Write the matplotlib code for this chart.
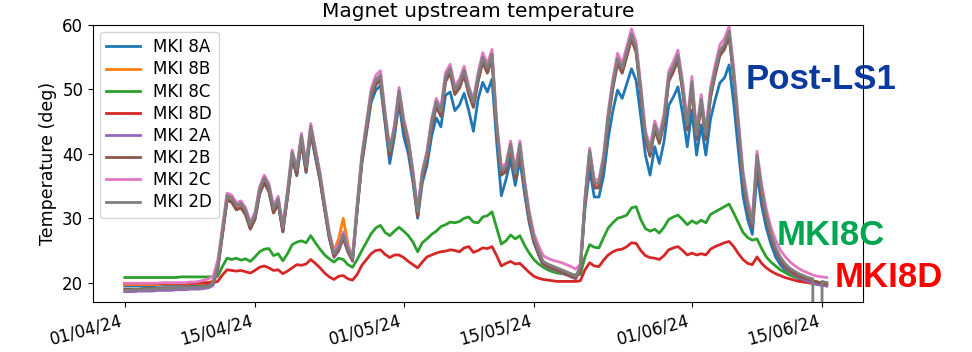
"""Magnet upstream temperature - MKI 8A..8D and 2A..2D, spring 2024."""
import matplotlib
matplotlib.use("Agg")
import matplotlib.pyplot as plt
import matplotlib.dates as mdates
import pandas as pd

# campioni ogni 12 ore a partire dal 01/04/24
t0 = "2024-04-01 00:00"

mki_8a = [
    19.5, 19.5, 19.5, 19.5, 19.5, 19.5, 19.5, 19.6, 19.6, 19.6,
    19.6, 19.6, 19.6, 19.7, 19.7, 19.7, 19.7, 19.7, 19.8, 20.0,
    22.4, 27.6, 32.8, 32.5, 31.4, 31.7, 30.6, 28.5, 30.0, 33.8,
    35.5, 34.2, 30.9, 32.3, 28.1, 33.3, 39.2, 36.6, 41.7, 37.1,
    43.1, 39.5, 35.9, 31.4, 27.1, 24.3, 25.2, 27.1, 25.0, 23.6,
    31.4, 38.5, 43.3, 48.0, 49.9, 50.6, 44.7, 38.5, 42.6, 47.9,
    42.7, 40.0, 35.5, 30.0, 35.5, 38.2, 42.7, 45.6, 44.2, 49.1,
    49.6, 46.7, 47.6, 49.4, 46.7, 43.5, 48.5, 51.1, 49.6, 51.6,
    41.8, 33.5, 36.0, 39.1, 35.1, 39.1, 33.8, 29.3, 26.2, 24.4,
    22.6, 22.2, 21.9, 21.7, 21.5, 21.3, 21.1, 20.9, 22.2, 31.5,
    37.6, 33.3, 33.3, 36.6, 42.4, 46.7, 49.9, 48.6, 50.9, 53.2,
    51.4, 45.8, 39.8, 36.7, 41.1, 38.5, 41.9, 47.5, 48.8, 50.4,
    46.2, 41.1, 46.8, 39.8, 44.5, 39.8, 45.4, 48.4, 51.0, 51.8,
    53.8, 47.8, 40.5, 33.5, 29.8, 27.5, 37.0, 32.0, 28.5, 26.0,
    24.0, 22.8, 22.0, 21.4, 21.0, 20.6, 20.3, 20.1, 19.9, 19.7,
    19.6, 19.5,
]
mki_8b = [
    19.7, 19.7, 19.7, 19.7, 19.7, 19.7, 19.7, 19.7, 19.8, 19.8,
    19.8, 19.8, 19.8, 19.8, 19.8, 19.9, 19.9, 19.9, 20.0, 20.3,
    22.6, 27.8, 33.2, 32.9, 31.7, 32.0, 30.9, 28.7, 30.2, 34.2,
    36.0, 34.7, 31.2, 32.7, 28.2, 33.7, 39.9, 37.2, 42.5, 37.7,
    44.0, 40.2, 36.4, 31.7, 27.3, 25.0, 26.8, 30.0, 26.0, 23.7,
    31.7, 39.2, 44.2, 49.2, 51.2, 51.9, 45.7, 40.2, 43.7, 49.5,
    44.7, 41.7, 36.7, 30.7, 36.7, 39.7, 44.7, 47.8, 46.3, 51.7,
    53.0, 49.7, 50.7, 52.7, 49.7, 47.7, 51.7, 54.7, 53.0, 55.2,
    44.2, 37.2, 37.7, 41.2, 36.7, 41.2, 35.2, 30.2, 26.8, 24.8,
    23.1, 22.7, 22.4, 22.1, 21.8, 21.5, 21.2, 20.8, 22.3, 32.7,
    40.2, 35.2, 35.2, 39.0, 45.7, 50.7, 54.5, 53.0, 55.6, 58.3,
    56.2, 49.7, 42.7, 40.1, 44.2, 42.1, 45.2, 51.7, 53.2, 55.0,
    50.2, 44.2, 50.9, 42.7, 48.2, 42.7, 49.2, 52.7, 55.7, 56.7,
    58.7, 52.2, 44.2, 36.2, 31.7, 28.9, 39.5, 34.2, 30.2, 27.3,
    25.2, 23.7, 22.7, 22.0, 21.5, 21.1, 20.8, 20.5, 20.3, 20.1,
    19.9, 19.8,
]
mki_8c = [
    20.8, 20.8, 20.8, 20.8, 20.8, 20.8, 20.8, 20.8, 20.8, 20.8,
    20.8, 20.8, 20.9, 20.9, 20.9, 20.9, 20.9, 20.9, 20.9, 20.9,
    21.0, 22.5, 23.8, 23.6, 23.8, 23.5, 23.7, 23.3, 24.0, 24.8,
    25.2, 25.3, 24.2, 24.5, 23.4, 24.5, 25.9, 26.3, 26.5, 26.2,
    27.3, 26.2, 25.2, 24.3, 23.7, 23.2, 23.8, 23.6, 22.8, 22.4,
    23.6, 25.0, 26.3, 27.6, 28.5, 28.9, 27.8, 27.3, 28.0, 28.6,
    28.0, 27.3, 26.3, 24.8, 26.2, 26.8, 27.5, 28.0, 28.7, 29.0,
    29.4, 29.3, 29.5, 30.0, 30.2, 29.4, 29.3, 30.2, 30.4, 31.0,
    28.5, 26.0, 26.5, 27.4, 26.8, 27.3, 25.8, 24.6, 23.6, 22.9,
    22.4, 22.0, 21.7, 21.5, 21.4, 21.3, 21.3, 21.2, 21.3, 24.0,
    25.9, 25.5, 25.4, 27.0, 28.5, 29.3, 30.0, 30.2, 30.5, 31.6,
    31.8, 29.8, 28.4, 28.0, 28.3, 27.7, 28.6, 29.8, 30.2, 30.5,
    29.8, 29.0, 29.6, 29.2, 29.7, 29.3, 30.6, 31.0, 31.4, 31.8,
    32.2, 30.8, 29.3, 27.8, 27.0, 26.6, 26.8, 25.3, 24.0, 23.2,
    22.6, 22.0, 21.6, 21.2, 20.9, 20.7, 20.5, 20.3, 20.2, 20.1,
    20.0, 20.0,
]
mki_8d = [
    19.9, 19.9, 19.9, 19.9, 19.9, 19.9, 19.9, 19.9, 19.9, 19.9,
    19.9, 19.9, 19.9, 19.9, 19.9, 19.9, 20.0, 20.0, 20.0, 20.0,
    20.2, 21.2, 22.0, 21.9, 21.8, 21.9, 21.7, 21.5, 21.9, 22.4,
    22.6, 22.3, 21.9, 22.0, 21.4, 21.8, 22.3, 22.8, 22.7, 22.9,
    23.6, 23.0, 22.3, 21.5, 20.9, 20.5, 21.0, 21.1, 20.6, 20.4,
    21.3, 22.7, 23.6, 24.5, 25.0, 25.1, 24.4, 23.9, 24.3, 24.3,
    23.9, 23.3, 22.8, 22.3, 23.2, 24.0, 24.3, 24.6, 24.8, 24.9,
    25.1, 25.0, 24.8, 25.4, 25.6, 24.7, 25.0, 25.4, 25.3, 25.6,
    24.2, 22.6, 23.0, 23.3, 22.9, 23.0, 22.3, 21.6, 21.0, 20.7,
    20.5, 20.4, 20.3, 20.2, 20.2, 20.2, 20.2, 20.2, 20.3, 22.0,
    23.1, 22.6, 22.5, 23.5, 24.3, 24.8, 25.1, 25.2, 25.6, 26.2,
    26.1, 25.0, 24.2, 23.9, 23.8, 23.6, 24.2, 25.1, 25.4, 25.6,
    25.0, 24.3, 24.6, 24.3, 24.5, 24.3, 25.2, 25.6, 25.9, 26.2,
    26.4, 25.6, 24.5, 23.6, 23.0, 22.8, 24.0, 23.0, 22.3, 21.8,
    21.4, 21.1, 20.8, 20.6, 20.4, 20.2, 20.1, 20.0, 19.9, 19.8,
    19.7, 19.7,
]
mki_2a = [
    18.6, 18.6, 18.6, 18.7, 18.7, 18.7, 18.7, 18.8, 18.8, 18.8,
    18.8, 18.9, 18.9, 18.9, 19.0, 19.0, 19.0, 19.1, 19.2, 19.6,
    22.0, 27.4, 32.9, 32.6, 31.4, 31.7, 30.6, 28.4, 29.9, 33.9,
    35.7, 34.4, 30.9, 32.4, 27.9, 33.4, 39.6, 36.9, 42.2, 37.4,
    43.7, 39.9, 36.1, 31.4, 26.9, 23.9, 24.9, 26.9, 24.7, 23.3,
    31.4, 38.9, 43.9, 48.9, 50.9, 51.6, 45.4, 39.9, 43.4, 49.2,
    44.4, 41.4, 36.4, 30.4, 36.4, 39.4, 44.4, 47.5, 46.0, 51.4,
    52.7, 49.4, 50.4, 52.4, 49.4, 47.4, 51.4, 54.4, 52.7, 54.9,
    43.9, 36.9, 37.4, 40.9, 36.4, 40.9, 34.9, 29.9, 26.4, 24.4,
    22.8, 22.4, 22.1, 21.8, 21.5, 21.2, 20.9, 20.6, 22.0, 32.4,
    39.9, 34.9, 34.9, 38.7, 45.4, 50.4, 54.2, 52.7, 55.3, 58.0,
    55.9, 49.4, 42.4, 39.8, 43.9, 41.8, 44.9, 51.4, 52.9, 54.7,
    49.9, 43.9, 50.6, 42.4, 47.9, 42.4, 48.9, 52.4, 55.4, 56.4,
    58.4, 51.9, 43.9, 35.9, 31.4, 28.6, 39.2, 33.9, 29.9, 27.0,
    24.9, 23.4, 22.4, 21.7, 21.2, 20.8, 20.5, 20.2, 20.0, 19.8,
    19.6, 19.5,
]
mki_2b = [
    19.0, 19.0, 19.0, 19.0, 19.1, 19.1, 19.1, 19.1, 19.1, 19.2,
    19.2, 19.2, 19.2, 19.3, 19.3, 19.3, 19.4, 19.4, 19.5, 19.9,
    22.2, 27.4, 32.8, 32.5, 31.3, 31.6, 30.5, 28.3, 29.8, 33.8,
    35.5, 34.2, 30.8, 32.3, 27.9, 33.3, 39.4, 36.7, 42.0, 37.2,
    43.5, 39.7, 35.9, 31.3, 26.9, 24.1, 25.1, 27.0, 24.9, 23.5,
    31.3, 38.7, 43.7, 48.7, 50.7, 51.4, 45.2, 39.7, 43.2, 49.0,
    44.2, 41.2, 36.2, 30.3, 36.2, 39.2, 44.2, 47.3, 45.8, 51.2,
    52.5, 49.2, 50.2, 52.2, 49.2, 47.2, 51.2, 54.2, 52.5, 54.7,
    43.7, 36.7, 37.2, 40.7, 36.2, 40.7, 34.7, 29.7, 26.4, 24.5,
    22.9, 22.5, 22.2, 21.9, 21.6, 21.3, 21.0, 20.7, 22.1, 32.2,
    39.7, 34.7, 34.7, 38.5, 45.2, 50.2, 54.0, 52.5, 55.1, 57.8,
    55.7, 49.2, 42.2, 39.6, 43.7, 41.6, 44.7, 51.2, 52.7, 54.5,
    49.7, 43.7, 50.4, 42.2, 47.7, 42.2, 48.7, 52.2, 55.2, 56.2,
    58.2, 51.7, 43.7, 35.7, 31.2, 28.6, 39.0, 33.7, 29.8, 27.0,
    25.0, 23.5, 22.5, 21.8, 21.4, 21.0, 20.7, 20.5, 20.3, 20.1,
    19.9, 19.8,
]
mki_2c = [
    19.9, 19.9, 19.9, 19.9, 19.9, 19.9, 19.9, 19.9, 20.0, 20.0,
    20.0, 20.0, 20.0, 20.0, 20.1, 20.1, 20.2, 20.4, 20.6, 21.0,
    23.5, 28.6, 33.9, 33.6, 32.4, 32.7, 31.6, 29.4, 30.9, 34.9,
    36.7, 35.4, 31.9, 33.4, 28.9, 34.4, 40.6, 37.9, 43.2, 38.4,
    44.7, 40.9, 37.1, 32.4, 27.9, 24.9, 25.9, 27.9, 25.7, 24.2,
    32.4, 39.9, 45.0, 50.1, 52.2, 52.9, 46.5, 40.9, 44.5, 50.3,
    45.5, 42.4, 37.4, 31.4, 37.4, 40.4, 45.4, 48.6, 47.1, 52.6,
    53.9, 50.5, 51.6, 53.6, 50.5, 48.5, 52.6, 55.7, 54.0, 56.2,
    45.1, 38.0, 38.5, 42.0, 37.5, 42.0, 36.0, 31.1, 27.7, 25.8,
    24.2, 23.8, 23.5, 23.3, 23.1, 22.8, 22.5, 22.1, 22.9, 33.3,
    40.9, 36.0, 36.0, 39.9, 46.6, 51.7, 55.6, 54.1, 56.7, 59.4,
    57.3, 50.7, 43.6, 41.0, 45.1, 43.0, 46.2, 52.8, 54.3, 56.1,
    51.3, 45.1, 52.0, 43.6, 49.2, 43.6, 50.3, 53.8, 56.9, 57.9,
    59.8, 53.3, 45.3, 37.3, 32.8, 30.0, 40.4, 35.3, 31.4, 28.6,
    26.6, 25.1, 24.1, 23.3, 22.7, 22.2, 21.8, 21.5, 21.2, 21.0,
    20.9, 20.8,
]
# il 14/06 il sensore 2D dà una lettura spuria (picco verso il basso)
mki_2d = [
    18.8, 18.8, 18.9, 18.9, 18.9, 19.0, 19.0, 19.0, 19.0, 19.1,
    19.1, 19.1, 19.2, 19.2, 19.2, 19.3, 19.3, 19.3, 19.4, 20.0,
    22.5, 28.0, 33.5, 33.2, 32.0, 32.3, 31.2, 29.0, 30.5, 34.5,
    36.3, 35.0, 31.5, 33.0, 28.5, 34.0, 40.2, 37.5, 42.8, 38.0,
    44.3, 40.5, 36.7, 32.0, 27.5, 24.5, 25.5, 27.5, 25.3, 23.8,
    32.0, 39.5, 44.5, 49.5, 51.5, 52.2, 46.0, 40.5, 44.0, 49.8,
    45.0, 42.0, 37.0, 31.0, 37.0, 40.0, 45.0, 48.1, 46.6, 52.0,
    53.3, 50.0, 51.0, 53.0, 50.0, 48.0, 52.0, 55.0, 53.3, 55.5,
    44.5, 37.5, 38.0, 41.5, 37.0, 41.5, 35.5, 30.5, 27.0, 25.0,
    23.3, 22.9, 22.6, 22.3, 22.0, 21.7, 21.4, 21.0, 22.5, 33.0,
    40.5, 35.5, 35.5, 39.3, 46.0, 51.0, 54.8, 53.3, 55.9, 58.6,
    56.5, 50.0, 43.0, 40.4, 44.5, 42.4, 45.5, 52.0, 53.5, 55.3,
    50.5, 44.5, 51.2, 43.0, 48.5, 43.0, 49.5, 53.0, 56.0, 57.0,
    59.0, 52.5, 44.5, 36.5, 32.0, 29.2, 39.8, 34.5, 30.5, 27.6,
    25.5, 24.0, 23.0, 22.3, 21.8, 21.4, 21.1, 20.8, 20.6, -300.0,
    20.2, 20.0,
]

serie = [("MKI 8A", mki_8a), ("MKI 8B", mki_8b), ("MKI 8C", mki_8c), ("MKI 8D", mki_8d),
         ("MKI 2A", mki_2a), ("MKI 2B", mki_2b), ("MKI 2C", mki_2c), ("MKI 2D", mki_2d)]
tempi = pd.date_range(t0, periods=len(mki_2d), freq="12h")

fig = plt.figure(figsize=(9.72, 3.52), dpi=100)
ax = fig.add_axes([0.0957, 0.142, 0.7923, 0.787])

for nome, valori in serie:
    ax.plot(tempi, valori, lw=2, label=nome)

ax.set_ylim(17.0, 60)
ax.set_yticks([20, 30, 40, 50, 60])
ax.set_xlim(pd.Timestamp("2024-03-28 14:00"), pd.Timestamp("2024-06-19 10:00"))
ax.xaxis.set_major_locator(mdates.DayLocator(bymonthday=[1, 15]))
ax.xaxis.set_major_formatter(mdates.DateFormatter("%d/%m/%y"))
plt.setp(ax.get_xticklabels(), rotation=15, ha="right")
ax.tick_params(labelsize=12)

ax.set_ylabel("Temperature (deg)", fontsize=12.5)
ax.set_title("Magnet upstream temperature", fontsize=14.5)
ax.legend(loc="upper left", fontsize=12, borderaxespad=0.4, labelspacing=0.25)

# etichette aggiunte a mano a destra del grafico
font = ["Liberation Sans", "DejaVu Sans"]
fig.text(0.767, 0.773, "Post-LS1", color="#0b3a9e", fontsize=25, fontweight="bold",
         family=font, va="center")
fig.text(0.799, 0.332, "MKI8C", color="#00a651", fontsize=25, fontweight="bold",
         family=font, va="center")
fig.text(0.859, 0.213, "MKI8D", color="#ff0000", fontsize=25, fontweight="bold",
         family=font, va="center")

fig.savefig("out.png", dpi=100)
